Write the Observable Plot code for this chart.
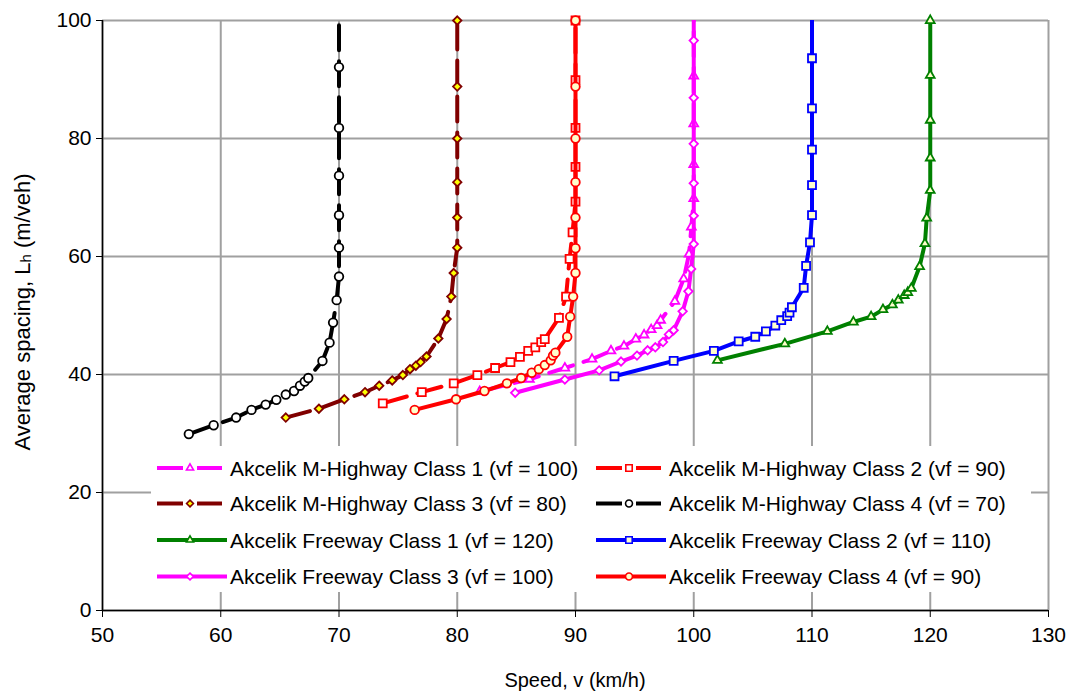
<!DOCTYPE html>
<html>
<head>
<meta charset="utf-8">
<script src="https://cdn.jsdelivr.net/npm/d3@7"></script>
<script src="https://cdn.jsdelivr.net/npm/@observablehq/plot@0.6"></script>
<style>
  body { margin: 0; background: #fff; }
  #chart svg { display: block; }
</style>
</head>
<body>
<div id="chart"></div>
<script>
// Speed (km/h) and average spacing L_h (m/veh) along each Akcelik curve
const mh1Speed   = [81.9, 86.1, 89.1, 91.4, 93.0, 94.1, 95.1, 95.8, 96.4, 96.9, 97.2, 98.4, 99.15, 99.6, 99.8, 100, 100, 100, 100, 100];
const mh1Spacing = [37.1, 39.2, 41.1, 42.6, 44.0, 44.8, 46.0, 46.7, 47.6, 48.3, 49.2, 52.4, 56.2, 60.4, 65.0, 69.8, 75.6, 82.5, 90.6, 100.8];

const mh2Speed   = [73.7, 77.0, 79.7, 81.7, 83.2, 84.5, 85.3, 86.0, 86.6, 87.1, 87.4, 88.6, 89.2, 89.5, 89.75, 90, 90, 90, 90, 90];
const mh2Spacing = [35.1, 37.0, 38.5, 39.9, 41.1, 42.1, 43.0, 44.0, 44.6, 45.5, 46.0, 49.6, 53.2, 59.6, 64.1, 69.3, 75.2, 81.8, 89.9, 100];

const mh3Speed   = [65.5, 68.3, 70.45, 72.2, 73.4, 74.5, 75.4, 76.0, 76.5, 76.9, 77.4, 78.4, 79.1, 79.5, 79.7, 80, 80, 80, 80, 80, 80];
const mh3Spacing = [32.7, 34.2, 35.8, 37.0, 38.1, 39.0, 39.9, 40.9, 41.5, 42.1, 43.05, 46.1, 49.4, 53.2, 57.2, 61.5, 66.6, 72.6, 80.0, 88.8, 100];

const mh4Speed   = [57.3, 59.4, 61.3, 62.6, 63.8, 64.7, 65.5, 66.2, 66.7, 67.1, 67.4, 68.6, 69.2, 69.5, 69.8, 70, 70, 70, 70, 70, 70, 70];
const mh4Spacing = [29.9, 31.4, 32.7, 34.0, 34.9, 35.7, 36.6, 37.2, 38.1, 38.8, 39.4, 42.3, 45.4, 48.8, 52.6, 56.6, 61.5, 67.0, 73.7, 81.8, 92.1, 103.5];

const fw1Speed   = [102.0, 107.7, 111.3, 113.5, 115.0, 116.0, 116.8, 117.3, 117.8, 118.1, 118.4, 119.1, 119.55, 119.7, 120, 120, 120, 120, 120];
const fw1Spacing = [42.4, 45.2, 47.3, 48.9, 49.8, 51.0, 51.8, 52.6, 53.4, 53.9, 54.6, 58.3, 62.2, 66.5, 71.2, 76.7, 83.1, 90.7, 100];

const fw2Speed   = [93.3, 98.3, 101.7, 103.8, 105.2, 106.1, 106.9, 107.4, 107.9, 108.1, 108.3, 109.3, 109.5, 109.83, 110, 110, 110, 110, 110, 110];
const fw2Spacing = [39.7, 42.3, 44.0, 45.6, 46.4, 47.3, 48.3, 49.2, 49.9, 50.5, 51.4, 54.7, 58.4, 62.4, 67.0, 72.1, 78.1, 85.1, 93.6, 103.5];

const fw3Speed   = [84.9, 89.1, 92.0, 93.85, 95.2, 96.1, 96.75, 97.4, 97.9, 98.3, 99.06, 99.55, 99.78, 100, 100, 100, 100, 100, 100, 100];
const fw3Spacing = [36.9, 39.15, 40.7, 42.2, 43.2, 44.1, 44.6, 45.5, 46.8, 47.5, 50.7, 54.1, 57.9, 62.1, 66.9, 72.4, 79.1, 86.9, 96.6, 107.5];

const fw4Speed   = [76.4, 79.9, 82.3, 84.2, 85.4, 86.3, 86.9, 87.4, 87.9, 88.1, 88.3, 89.3, 89.55, 89.8, 90, 90, 90, 90, 90, 90, 90];
const fw4Spacing = [34.0, 35.8, 37.2, 38.5, 39.4, 40.3, 40.9, 41.6, 42.4, 43.2, 43.7, 46.4, 49.8, 53.2, 57.2, 61.4, 66.6, 72.6, 80.0, 88.8, 100];

const seriesNames = [
  "Akcelik M-Highway Class 1 (vf = 100)",
  "Akcelik M-Highway Class 2 (vf = 90)",
  "Akcelik M-Highway Class 3 (vf = 80)",
  "Akcelik M-Highway Class 4 (vf = 70)",
  "Akcelik Freeway Class 1 (vf = 120)",
  "Akcelik Freeway Class 2 (vf = 110)",
  "Akcelik Freeway Class 3 (vf = 100)",
  "Akcelik Freeway Class 4 (vf = 90)"
];
const seriesSpeed   = [mh1Speed, mh2Speed, mh3Speed, mh4Speed, fw1Speed, fw2Speed, fw3Speed, fw4Speed];
const seriesSpacing = [mh1Spacing, mh2Spacing, mh3Spacing, mh4Spacing, fw1Spacing, fw2Spacing, fw3Spacing, fw4Spacing];

const xTicks = [50, 60, 70, 80, 90, 100, 110, 120, 130];
const yTicks = [0, 20, 40, 60, 80, 100];

// Line and marker styling per series (same order as the names)
const styles = [
  {stroke: "#ff00ff", fill: "#ffffff", symbol: "triangle2", r: 4.2, dash: true},
  {stroke: "#ff0000", fill: "#ffffff", symbol: "square",    r: 4.5, dash: true},
  {stroke: "#800000", fill: "#ffff00", symbol: "diamond2",  r: 3.8, dash: true},
  {stroke: "#000000", fill: "#ffffff", symbol: "circle",    r: 4.3, dash: true},
  {stroke: "#008000", fill: "#ffffcc", symbol: "triangle2", r: 4.2, dash: false},
  {stroke: "#0000ff", fill: "#ffffcc", symbol: "square",    r: 4.5, dash: false},
  {stroke: "#ff00ff", fill: "#ffffff", symbol: "diamond2",  r: 3.8, dash: false},
  {stroke: "#ff0000", fill: "#ffffcc", symbol: "circle",    r: 4.3, dash: false}
];
const DASH = "25,11";
const LINE_W = 4;

const width = 1073, height = 695;
const font = "'Liberation Sans', Arial, sans-serif";

const marks = [
  Plot.gridX(xTicks, {stroke: "#a0a0a0", strokeOpacity: 1, strokeWidth: 2}),
  Plot.gridY(yTicks, {stroke: "#a0a0a0", strokeOpacity: 1, strokeWidth: 2}),
  Plot.axisX(xTicks, {tickSize: 7, tickPadding: 10, label: null, fontSize: 21, stroke: "#000"}),
  Plot.axisY(yTicks, {tickSize: 6, tickPadding: 5, label: null, fontSize: 21, stroke: "#000"}),
  Plot.ruleX([50], {stroke: "#000", strokeWidth: 1.5}),
  Plot.ruleY([0], {stroke: "#000", strokeWidth: 1.5})
];

seriesNames.forEach((name, i) => {
  const s = styles[i];
  const rows = seriesSpeed[i].map((v, j) => ({v, L: seriesSpacing[i][j]}));
  marks.push(Plot.line(rows, {
    x: "v", y: "L", stroke: s.stroke, strokeWidth: LINE_W,
    strokeDasharray: s.dash ? DASH : null, clip: true
  }));
  marks.push(Plot.dot(rows.filter(d => d.L <= 100), {
    x: "v", y: "L", symbol: s.symbol, r: s.r,
    stroke: s.stroke, fill: s.fill, strokeWidth: 1.8
  }));
});

const chart = Plot.plot({
  width, height,
  marginLeft: 102, marginRight: 25, marginTop: 20, marginBottom: 85,
  x: {domain: [50, 130]},
  y: {domain: [0, 100]},
  style: {fontFamily: font, fontSize: "21px", background: "#fff", color: "#000"},
  marks
});
document.getElementById("chart").append(chart);

const svg = d3.select(chart);

// Axis titles
svg.append("text")
  .attr("x", 575).attr("y", 680)
  .attr("text-anchor", "middle").attr("dominant-baseline", "central")
  .style("font", `20px ${font}`).attr("fill", "#000")
  .text("Speed, v (km/h)");

const yTitle = svg.append("text")
  .attr("transform", "translate(22,312) rotate(-90)")
  .attr("text-anchor", "middle").attr("dominant-baseline", "central")
  .style("font", `22px ${font}`).attr("fill", "#000");
yTitle.append("tspan").text("Average spacing, L");
yTitle.append("tspan").attr("font-size", "15px").attr("dy", "3").text("h");
yTitle.append("tspan").attr("dy", "-3").text(" (m/veh)");

// Legend box inside the plot area, two columns by four rows
const legend = svg.append("g");
legend.append("rect")
  .attr("x", 151).attr("y", 446).attr("width", 880).attr("height", 146)
  .attr("fill", "#fff");
const rowY = [468, 503.5, 540, 576.5];
const colX = [157, 596];
seriesNames.forEach((name, i) => {
  const s = styles[i];
  const cx = colX[i % 2], cy = rowY[Math.floor(i / 2)];
  const lineLen = s.dash ? 65 : 70;
  const g = legend.append("g");
  if (s.dash) {
    g.append("line").attr("x1", cx).attr("x2", cx + 26).attr("y1", cy).attr("y2", cy)
      .attr("stroke", s.stroke).attr("stroke-width", LINE_W);
    g.append("line").attr("x1", cx + 40).attr("x2", cx + lineLen).attr("y1", cy).attr("y2", cy)
      .attr("stroke", s.stroke).attr("stroke-width", LINE_W);
  } else {
    g.append("line").attr("x1", cx).attr("x2", cx + lineLen).attr("y1", cy).attr("y2", cy)
      .attr("stroke", s.stroke).attr("stroke-width", LINE_W);
  }
  const symbolType = {
    triangle2: d3.symbolTriangle2, square: d3.symbolSquare,
    diamond2: d3.symbolDiamond2, circle: d3.symbolCircle
  }[s.symbol];
  g.append("path")
    .attr("d", d3.symbol(symbolType, Math.PI * s.r * s.r * 0.65)())
    .attr("transform", `translate(${cx + 33},${cy})`)
    .attr("fill", s.fill).attr("stroke", s.stroke).attr("stroke-width", 1.6);
  g.append("text")
    .attr("x", cx + 73).attr("y", cy)
    .attr("text-anchor", "start")
    .attr("dominant-baseline", "central")
    .style("font", `21px ${font}`).attr("fill", "#000")
    .text(name);
});
</script>
</body>
</html>
